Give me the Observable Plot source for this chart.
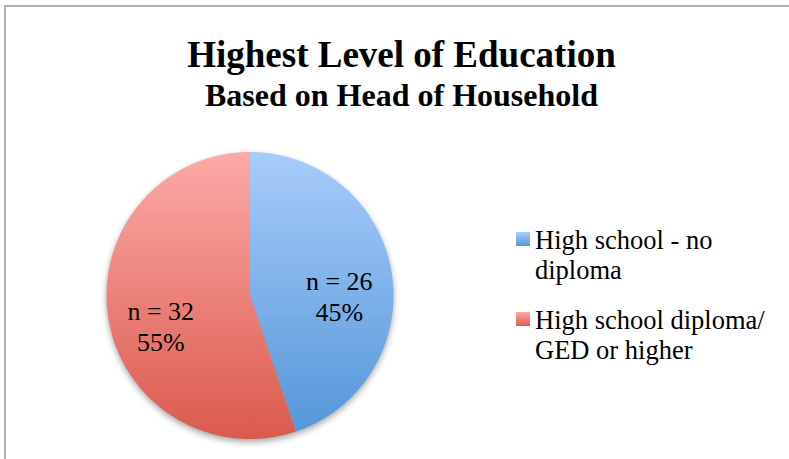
<!DOCTYPE html>
<html><head><meta charset="utf-8">
<script src="https://cdn.jsdelivr.net/npm/d3@7"></script>
<script src="https://cdn.jsdelivr.net/npm/@observablehq/plot@0.6"></script>
<style>
html,body{margin:0;padding:0;background:#fff;}
body{width:789px;height:459px;overflow:hidden;position:relative;font-family:"Liberation Serif","Times New Roman",serif;color:#000;}
#frame{position:absolute;left:4px;top:5px;width:830px;height:490px;border-left:2px solid #b0b0b0;border-top:2px solid #b0b0b0;}
#chart{position:absolute;left:0;top:0;}
.title{position:absolute;left:0;width:803px;text-align:center;font-weight:bold;line-height:1;white-space:nowrap;}
#legend{position:absolute;left:516px;top:225px;width:270px;}
.item{display:flex;align-items:flex-start;margin-bottom:20px;}
.sw{width:14px;height:14px;flex:none;margin-top:7px;margin-right:5px;}
.lbl{font-size:26.5px;line-height:30px;width:240px;}
</style></head><body>
<div id="frame"></div>
<div id="chart"></div>
<div class="title" id="t1" style="top:36px;font-size:37px"></div>
<div class="title" id="t2" style="top:79px;font-size:32px"></div>
<div id="legend"></div>
<script>
// ---- data ----
const titleText = "Highest Level of Education";
const subtitleText = "Based on Head of Household";
const categories = ["High school - no diploma", "High school diploma/ GED or higher"];
const counts = [26, 32];

// ---- styles ----
const gradients = [
  {id: "gBlue", top: "#a8ccfa", bottom: "#5597d9"},
  {id: "gRed", top: "#fcaaa8", bottom: "#db5a4d"}
];

document.getElementById("t1").textContent = titleText;
document.getElementById("t2").textContent = subtitleText;

const total = d3.sum(counts);
const rows = categories.map((c, i) => ({category: c, count: counts[i]}));
const arcs = d3.pie().value(d => d.count).sort(null)(rows);

// slice polygons in unit-circle coordinates (angles clockwise from 12 o'clock)
const slicePoints = [];
for (const a of arcs) {
  slicePoints.push({category: a.data.category, x: 0, y: 0});
  const n = Math.ceil((a.endAngle - a.startAngle) / (Math.PI / 360));
  for (let k = 0; k <= n; k++) {
    const t = a.startAngle + (a.endAngle - a.startAngle) * k / n;
    slicePoints.push({category: a.data.category, x: Math.sin(t), y: Math.cos(t)});
  }
}
const labelRadius = 0.63;
const labels = arcs.map(a => {
  const m = (a.startAngle + a.endAngle) / 2;
  return {
    x: labelRadius * Math.sin(m),
    y: labelRadius * Math.cos(m),
    text: `n = ${a.data.count}\n${Math.round(a.data.count / total * 100)}%`
  };
});

const W = 789, H = 459, cx = 249.5, cy = 295, R = 143.5;
const plot = Plot.plot({
  width: W, height: H,
  marginLeft: cx - R, marginRight: W - (cx + R), marginTop: cy - R, marginBottom: H - (cy + R),
  x: {domain: [-1, 1], axis: null},
  y: {domain: [-1, 1], axis: null},
  color: {domain: categories, range: gradients.map(g => `url(#${g.id})`)},
  style: {background: "transparent", overflow: "visible"},
  marks: [
    Plot.line(slicePoints, {x: "x", y: "y", z: "category", fill: "category", stroke: "none", curve: "linear-closed"}),
    Plot.text(labels, {x: "x", y: "y", text: "text", fontSize: 26, lineHeight: 1.2, fontFamily: "Liberation Serif", fill: "#000", dy: 15})
  ]
});

const svg = d3.select(plot);
const defs = svg.insert("defs", ":first-child");
for (const g of gradients) {
  const lg = defs.append("linearGradient").attr("id", g.id).attr("x1", 0).attr("y1", 0).attr("x2", 0).attr("y2", 1);
  lg.append("stop").attr("offset", "0%").attr("stop-color", g.top);
  lg.append("stop").attr("offset", "100%").attr("stop-color", g.bottom);
}
svg.select('g[aria-label="line"]').style("filter", "drop-shadow(0px 3px 3px rgba(0,0,0,0.35))");
document.getElementById("chart").appendChild(plot);

// legend
const legend = d3.select("#legend");
categories.forEach((c, i) => {
  const item = legend.append("div").attr("class", "item");
  item.append("span").attr("class", "sw")
    .style("background", `linear-gradient(${gradients[i].top}, ${gradients[i].bottom})`);
  item.append("span").attr("class", "lbl").text(c);
});
</script>
</body></html>
